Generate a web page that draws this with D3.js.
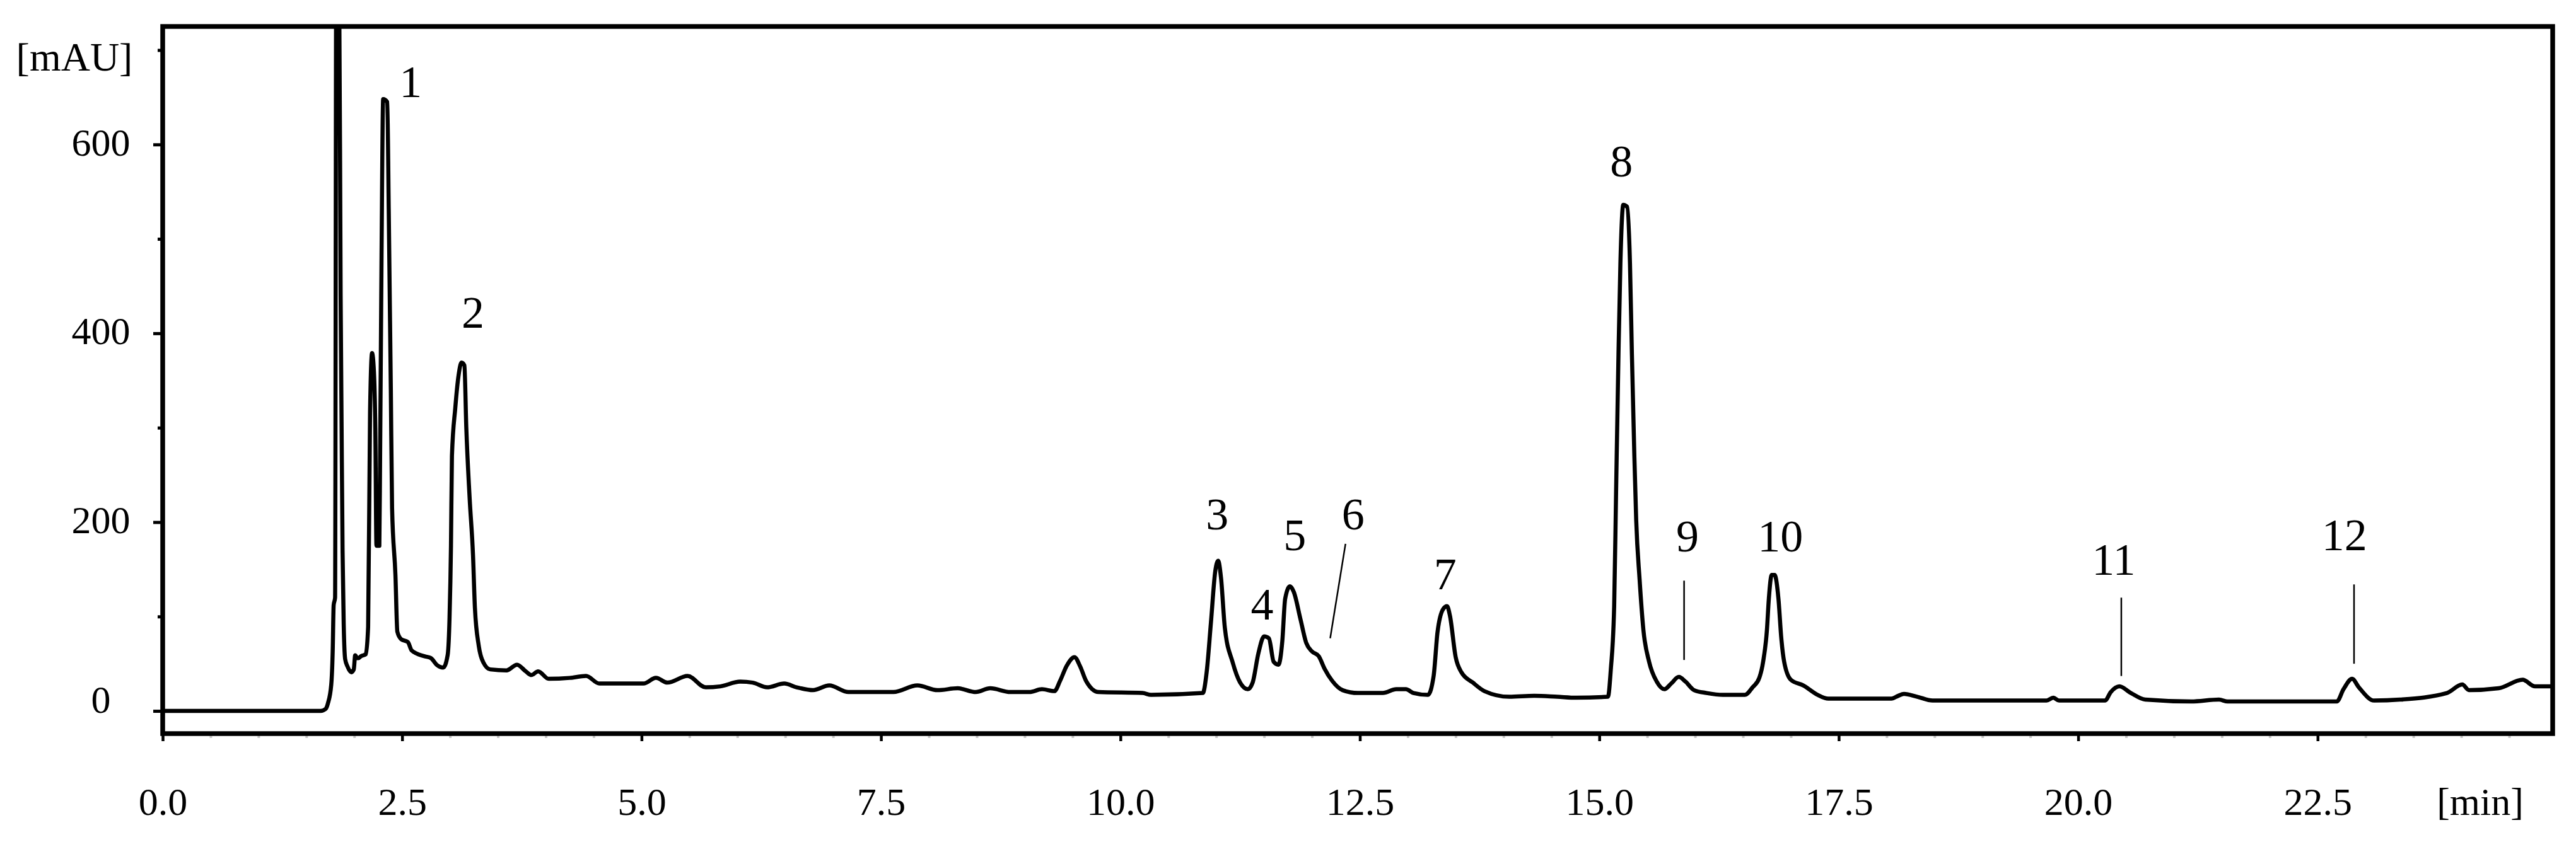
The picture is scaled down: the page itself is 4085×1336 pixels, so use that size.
<!DOCTYPE html>
<html>
<head>
<meta charset="utf-8">
<script src="https://cdn.jsdelivr.net/npm/d3@7"></script>
<style>
  html, body { margin: 0; padding: 0; background: #fff; }
  svg { display: block; }
  text { font-family: "Liberation Serif", "DejaVu Serif", serif; fill: #000; }
</style>
</head>
<body>
<svg id="chart" width="4085" height="1336"></svg>
<script>
// ---------------- data ----------------
const retentionTime = [
  0, 1.65, 1.70, 1.725, 1.76, 1.775, 1.785, 1.80, 1.812, 1.842, 1.858, 1.868, 1.878, 1.89, 1.905, 1.93, 1.97,
  1.995, 2.01, 2.03, 2.045, 2.07, 2.12, 2.145, 2.165, 2.186, 2.205, 2.22, 2.232, 2.262, 2.27, 2.285, 2.302,
  2.345, 2.36, 2.382, 2.395, 2.43, 2.45, 2.49, 2.56, 2.60, 2.73, 2.80, 2.86, 2.93, 2.975, 2.995, 3.01, 3.02,
  3.055, 3.09, 3.12, 3.15, 3.17, 3.205, 3.24, 3.26, 3.30, 3.35, 3.42, 3.59, 3.70, 3.79, 3.85, 3.92, 4.03,
  4.25, 4.42, 4.56, 5.02, 5.15, 5.27, 5.48, 5.67, 5.82, 6.03, 6.16, 6.31, 6.49, 6.62, 6.79, 6.96, 7.16,
  7.63, 7.88, 8.09, 8.30, 8.49, 8.64, 8.85, 9.05, 9.18, 9.31, 9.37, 9.44, 9.52, 9.58, 9.64, 9.77, 10.23,
  10.32, 10.86, 10.90, 10.945, 10.99, 11.02, 11.05, 11.09, 11.17, 11.25, 11.33, 11.38, 11.44, 11.50, 11.55,
  11.60, 11.65, 11.69, 11.72, 11.77, 11.81, 11.88, 11.94, 12.00, 12.07, 12.13, 12.21, 12.32, 12.48, 12.74,
  12.88, 12.98, 13.06, 13.21, 13.27, 13.31, 13.37, 13.41, 13.44, 13.50, 13.56, 13.68, 13.80, 14.06, 14.32,
  14.56, 14.76, 15.09, 15.12, 15.155, 15.175, 15.20, 15.22, 15.25, 15.29, 15.32, 15.34, 15.365, 15.385,
  15.42, 15.46, 15.52, 15.60, 15.68, 15.75, 15.83, 15.90, 15.99, 16.12, 16.29, 16.52, 16.60, 16.67, 16.71,
  16.75, 16.77, 16.80, 16.83, 16.87, 16.90, 16.93, 17.00, 17.13, 17.28, 17.39, 18.05, 18.12, 18.18, 18.32,
  18.48, 19.67, 19.74, 19.80, 20.28, 20.34, 20.43, 20.55, 20.70, 21.18, 21.47, 21.56, 22.70, 22.77, 22.86,
  22.93, 23.09, 23.36, 23.85, 24.01, 24.08, 24.39, 24.64, 24.77, 24.97
];
const absorbance = [
  0, 0, 2, 8, 28, 63, 112, 120, 780, 780, 440, 300, 170, 92, 55, 47, 41,
  44, 59, 56, 56, 58, 60, 89, 316, 379, 360, 300, 175, 175, 270, 482, 648,
  645, 532, 341, 215, 144, 84, 76, 73, 64, 58, 56, 49, 46, 59, 99, 175, 270,
  321, 356, 369, 366, 300, 225, 165, 109, 69, 51, 44, 43, 49, 42, 38, 42, 34,
  35, 37, 29, 29, 35, 30, 37, 25, 26, 31, 30, 25, 29, 25, 22, 27, 20,
  20, 27, 22, 24, 20, 24, 20, 20, 23, 21, 32, 48, 57, 47, 32, 20, 19,
  17, 19, 41, 94, 148, 159, 141, 88, 52, 30, 23, 30, 61, 79, 77,
  52, 49, 74, 119, 132, 126, 97, 72, 63, 58, 45, 32, 22, 19, 19,
  23, 23, 19, 17, 37, 83, 108, 111, 101, 57, 41, 30, 21, 15, 16,
  15, 14, 15, 44, 111, 232, 378, 474, 536, 534, 474, 378, 273, 202,
  140, 86, 52, 31, 23, 29, 36, 31, 22, 19, 17, 17, 25, 35, 52,
  86, 119, 144, 144, 119, 77, 52, 33, 27, 17, 13, 13, 16, 18, 15,
  11, 11, 14, 11, 11, 20, 26, 19, 12, 10, 12, 10, 10, 23, 34,
  25, 11, 12, 19, 28, 22, 24, 33, 26, 26
];

// peak annotations (data coordinates: minutes, mAU)
const peakNames = ["1", "2", "3", "4", "5", "6", "7", "8", "9", "10", "11", "12"];
const peakLabelTime = [2.59, 3.24, 11.01, 11.48, 11.82, 12.43, 13.39, 15.23, 15.92, 16.89, 20.37, 22.78];
const peakLabelValue = [650, 406, 192, 97, 170, 192, 129, 566, 169, 169, 144, 170];

// leader lines: [t, v] start and end
const leaderPeaks = ["6", "9", "11", "12"];
const leaderStart = [[12.35, 177], [15.885, 138], [20.45, 120], [22.88, 134]];
const leaderEnd = [[12.19, 77], [15.885, 54], [20.45, 37], [22.88, 50]];

// axis ticks
const xMajorTicks = [0, 2.5, 5, 7.5, 10, 12.5, 15, 17.5, 20, 22.5];
const xMinorTicks = [0.5, 1, 1.5, 2, 3, 3.5, 4, 4.5, 5.5, 6, 6.5, 7, 8, 8.5, 9, 9.5, 10.5, 11, 11.5, 12,
  13, 13.5, 14, 14.5, 15.5, 16, 16.5, 17, 18, 18.5, 19, 19.5, 20.5, 21, 21.5, 22, 23, 23.5, 24, 24.5];
const yMajorTicks = [0, 200, 400, 600];
const yMinorTicks = [100, 300, 500, 700];
const xUnit = "[min]";
const yUnit = "[mAU]";

// ---------------- layout ----------------
const svg = d3.select("#chart");
const plotL = 258, plotR = 4048, plotT = 42, plotB = 1164;

const x = d3.scaleLinear().domain([0, 25]).range([258, 4055]);
const y = d3.scaleLinear().domain([-24, 725]).range([plotB, plotT]);

svg.append("rect").attr("width", 4085).attr("height", 1336).attr("fill", "#fff");

svg.append("defs").append("clipPath").attr("id", "plotclip")
  .append("rect").attr("x", plotL).attr("y", plotT).attr("width", plotR - plotL).attr("height", plotB - plotT);

// trace
const pts = retentionTime.map((t, i) => [t, absorbance[i]]);
const line = d3.line().x(d => x(d[0])).y(d => y(d[1])).curve(d3.curveMonotoneX);
svg.append("path")
  .attr("clip-path", "url(#plotclip)")
  .attr("d", line(pts))
  .attr("fill", "none")
  .attr("stroke", "#000")
  .attr("stroke-width", 6.5)
  .attr("stroke-linejoin", "round");

// x axis (major + minor ticks)
const gxMinor = svg.append("g").attr("transform", `translate(0,${plotB})`)
  .call(d3.axisBottom(x).tickValues(xMinorTicks).tickSize(7).tickFormat(""));
gxMinor.select(".domain").remove();
gxMinor.selectAll("line").attr("stroke", "#c8c8c8").attr("stroke-width", 4);

const gx = svg.append("g").attr("transform", `translate(0,${plotB})`)
  .call(d3.axisBottom(x).tickValues(xMajorTicks).tickSize(12).tickFormat(d3.format(".1f")));
gx.select(".domain").remove();
gx.selectAll("line").attr("stroke", "#000").attr("stroke-width", 4.5);
gx.selectAll("text")
  .attr("y", 1293 - plotB).attr("dy", 0)
  .attr("font-size", 62)
  .style("font-family", '"Liberation Serif", serif');

// y axis
const gyMinor = svg.append("g").attr("transform", `translate(${plotL},0)`)
  .call(d3.axisLeft(y).tickValues(yMinorTicks).tickSize(8).tickFormat(""));
gyMinor.select(".domain").remove();
gyMinor.selectAll("line").attr("stroke", "#000").attr("stroke-width", 5);

const gy = svg.append("g").attr("transform", `translate(${plotL},0)`)
  .call(d3.axisLeft(y).tickValues(yMajorTicks).tickSize(15).tickFormat(d3.format("d")));
gy.select(".domain").remove();
gy.selectAll("line").attr("stroke", "#000").attr("stroke-width", 5);
gy.selectAll("text")
  .attr("x", 160 - plotL)
  .attr("text-anchor", "middle")
  .attr("dy", d => (d === 0 ? 2 : 17))
  .attr("font-size", 62)
  .style("font-family", '"Liberation Serif", serif');

// frame
svg.append("rect")
  .attr("x", plotL).attr("y", plotT)
  .attr("width", plotR - plotL).attr("height", plotB - plotT)
  .attr("fill", "none").attr("stroke", "#000").attr("stroke-width", 7.5);

// axis unit labels
svg.append("text").attr("x", 118).attr("y", 112).attr("text-anchor", "middle")
  .attr("font-size", 64).text(yUnit);
svg.append("text").attr("x", 3933).attr("y", 1293).attr("text-anchor", "middle")
  .attr("font-size", 62).text(xUnit);

// leader lines
svg.append("g").selectAll("line").data(leaderPeaks).join("line")
  .attr("x1", (d, i) => x(leaderStart[i][0])).attr("y1", (d, i) => y(leaderStart[i][1]))
  .attr("x2", (d, i) => x(leaderEnd[i][0])).attr("y2", (d, i) => y(leaderEnd[i][1]))
  .attr("stroke", "#000").attr("stroke-width", 2.5);

// peak labels
svg.append("g").selectAll("text").data(peakNames).join("text")
  .attr("x", (d, i) => x(peakLabelTime[i]))
  .attr("y", (d, i) => y(peakLabelValue[i]))
  .attr("text-anchor", "middle")
  .attr("font-size", 72)
  .text(d => d);
</script>
</body>
</html>
